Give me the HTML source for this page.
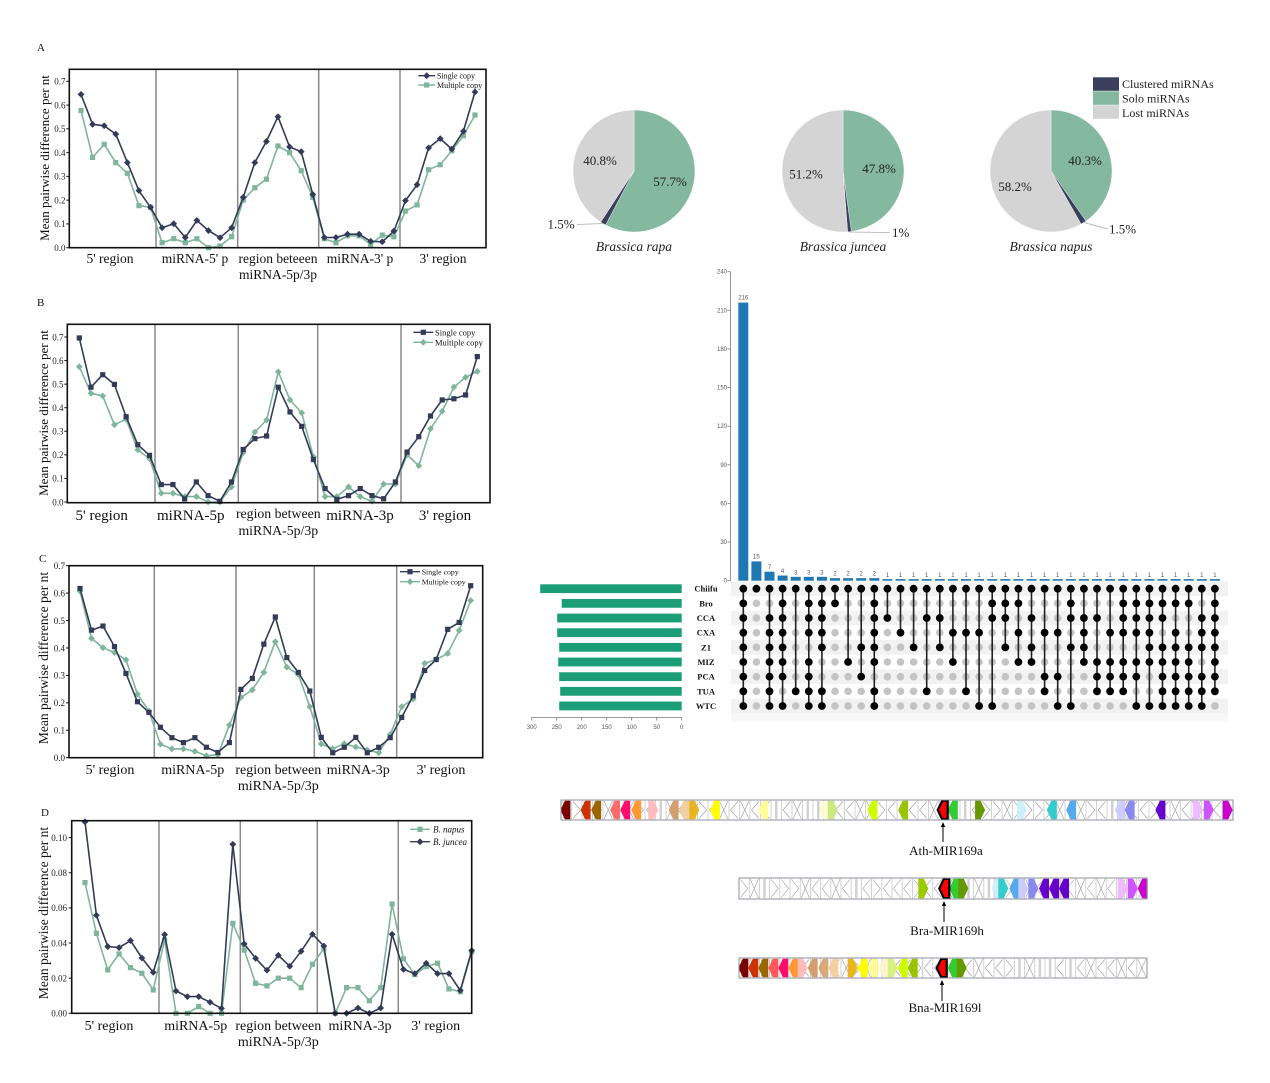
<!DOCTYPE html>
<html><head><meta charset="utf-8">
<style>
html,body{margin:0;padding:0;background:#fff;}
svg{display:block;font-family:"Liberation Serif",serif;}
.tk{font-size:9px;fill:#222;text-anchor:end;}
.xl{fill:#111;text-anchor:middle;}
.sm{font-family:"Liberation Sans",sans-serif;font-size:6px;fill:#555;}
.sl{font-size:8.5px;font-weight:bold;fill:#111;text-anchor:middle;}
</style></head><body>
<svg id="s" width="1270" height="1083" viewBox="0 0 1270 1083" xmlns="http://www.w3.org/2000/svg">
<rect x="0" y="0" width="1270" height="1083" fill="#fff"/>
<g id="shapes"></g>

<!-- Panel letters -->
<text x="37" y="51" font-size="11" fill="#111">A</text>
<text x="37" y="306" font-size="11" fill="#111">B</text>
<text x="39" y="562" font-size="11" fill="#111">C</text>
<text x="41" y="816" font-size="11" fill="#111">D</text>

<!-- Y labels -->
<text transform="translate(49,158) rotate(-90)" text-anchor="middle" font-size="13" fill="#111">Mean pairwise difference per nt</text>
<text transform="translate(48,413) rotate(-90)" text-anchor="middle" font-size="13" fill="#111">Mean pairwise difference per nt</text>
<text transform="translate(48,658) rotate(-90)" text-anchor="middle" font-size="13.5" fill="#111">Mean pairwise difference per nt</text>
<text transform="translate(48,913) rotate(-90)" text-anchor="middle" font-size="13.5" fill="#111">Mean pairwise difference per nt</text>

<!-- A ticks -->
<text class="tk" x="65.5" y="251">0.0</text>
<text class="tk" x="65.5" y="227.2">0.1</text>
<text class="tk" x="65.5" y="203.5">0.2</text>
<text class="tk" x="65.5" y="179.7">0.3</text>
<text class="tk" x="65.5" y="155.9">0.4</text>
<text class="tk" x="65.5" y="132.2">0.5</text>
<text class="tk" x="65.5" y="108.4">0.6</text>
<text class="tk" x="65.5" y="84.6">0.7</text>
<!-- B ticks -->
<text class="tk" x="63.5" y="505.3">0.0</text>
<text class="tk" x="63.5" y="481.7">0.1</text>
<text class="tk" x="63.5" y="458.2">0.2</text>
<text class="tk" x="63.5" y="434.6">0.3</text>
<text class="tk" x="63.5" y="411">0.4</text>
<text class="tk" x="63.5" y="387.5">0.5</text>
<text class="tk" x="63.5" y="363.9">0.6</text>
<text class="tk" x="63.5" y="340.3">0.7</text>
<!-- C ticks -->
<text class="tk" x="65" y="761">0.0</text>
<text class="tk" x="65" y="733.6">0.1</text>
<text class="tk" x="65" y="706.1">0.2</text>
<text class="tk" x="65" y="678.7">0.3</text>
<text class="tk" x="65" y="651.3">0.4</text>
<text class="tk" x="65" y="623.8">0.5</text>
<text class="tk" x="65" y="596.4">0.6</text>
<text class="tk" x="65" y="569">0.7</text>
<!-- D ticks -->
<text class="tk" x="67" y="1016.6">0.00</text>
<text class="tk" x="67" y="981.5">0.02</text>
<text class="tk" x="67" y="946.3">0.04</text>
<text class="tk" x="67" y="911.2">0.06</text>
<text class="tk" x="67" y="876.1">0.08</text>
<text class="tk" x="67" y="840.9">0.10</text>

<!-- A x labels -->
<g class="xl" font-size="13.5">
<text x="110" y="263">5' region</text>
<text x="195" y="263">miRNA-5' p</text>
<text x="278" y="263">region beteeen</text>
<text x="278" y="279">miRNA-5p/3p</text>
<text x="360" y="263">miRNA-3' p</text>
<text x="443" y="263">3' region</text>
</g>
<!-- B x labels -->
<g class="xl">
<text x="101.7" y="520" font-size="15">5' region</text>
<text x="190.7" y="520" font-size="15">miRNA-5p</text>
<text x="278.3" y="518" font-size="13.8">region between</text>
<text x="278.3" y="535" font-size="13.8">miRNA-5p/3p</text>
<text x="360" y="520" font-size="15">miRNA-3p</text>
<text x="445" y="520" font-size="15">3' region</text>
</g>
<!-- C x labels -->
<g class="xl" font-size="14">
<text x="110" y="774">5' region</text>
<text x="192.7" y="774">miRNA-5p</text>
<text x="278.3" y="774">region between</text>
<text x="278.3" y="790">miRNA-5p/3p</text>
<text x="358.3" y="774">miRNA-3p</text>
<text x="441" y="774">3' region</text>
</g>
<!-- D x labels -->
<g class="xl" font-size="14">
<text x="109" y="1030">5' region</text>
<text x="195.7" y="1030">miRNA-5p</text>
<text x="278.3" y="1030">region between</text>
<text x="278.3" y="1046">miRNA-5p/3p</text>
<text x="360" y="1030">miRNA-3p</text>
<text x="435.7" y="1030">3' region</text>
</g>

<!-- Legends line charts -->
<text x="437" y="78.5" font-size="8" fill="#111">Single copy</text>
<text x="437" y="88" font-size="8" fill="#111">Multiple copy</text>
<text x="435" y="335.3" font-size="8.5" fill="#111">Single copy</text>
<text x="435" y="345.3" font-size="8.5" fill="#111">Multiple copy</text>
<text x="421.7" y="574.5" font-size="7.8" fill="#111">Single copy</text>
<text x="421.7" y="584.5" font-size="7.8" fill="#111">Multiple copy</text>
<text x="433" y="832.5" font-size="9" font-style="italic" fill="#111">B. napus</text>
<text x="433" y="845" font-size="9" font-style="italic" fill="#111">B. juncea</text>

<!-- Pie labels -->
<g font-size="13" fill="#222">
<text x="600" y="165" text-anchor="middle">40.8%</text>
<text x="670" y="186" text-anchor="middle">57.7%</text>
<text x="561" y="228.5" text-anchor="middle">1.5%</text>
<text x="806" y="178.5" text-anchor="middle">51.2%</text>
<text x="879" y="173" text-anchor="middle">47.8%</text>
<text x="892" y="237">1%</text>
<text x="1015" y="191" text-anchor="middle">58.2%</text>
<text x="1085" y="165" text-anchor="middle">40.3%</text>
<text x="1109" y="233.5">1.5%</text>
</g>
<g font-size="13.5" font-style="italic" fill="#222" text-anchor="middle">
<text x="634" y="251">Brassica rapa</text>
<text x="843" y="251">Brassica juncea</text>
<text x="1051" y="251">Brassica napus</text>
</g>
<g font-size="12" fill="#222">
<text x="1122" y="88">Clustered miRNAs</text>
<text x="1122" y="102.5">Solo miRNAs</text>
<text x="1122" y="117">Lost miRNAs</text>
</g>

<!-- Upset y-axis labels -->
<g class="sm" text-anchor="end">
<text x="727" y="582.7">0</text>
<text x="727" y="544.1">30</text>
<text x="727" y="505.5">60</text>
<text x="727" y="466.8">90</text>
<text x="727" y="428.2">120</text>
<text x="727" y="389.6">150</text>
<text x="727" y="351">180</text>
<text x="727" y="312.3">210</text>
<text x="727" y="273.7">240</text>
</g>
<!-- bar count labels -->
<g class="sm" text-anchor="middle">
<text x="743.3" y="299.5">216</text>
<text x="756.4" y="558.5">15</text>
<text x="769.5" y="569">7</text>
<text x="782.6" y="573">4</text>
<text x="795.7" y="574.3">3</text>
<text x="808.8" y="574.3">3</text>
<text x="821.9" y="574.3">3</text>
<text x="835.0" y="575.6">2</text>
<text x="848.1" y="575.6">2</text>
<text x="861.2" y="575.6">2</text>
<text x="874.3" y="575.6">2</text>
<text x="887.4" y="577">1</text>
<text x="900.5" y="577">1</text>
<text x="913.6" y="577">1</text>
<text x="926.7" y="577">1</text>
<text x="939.8" y="577">1</text>
<text x="952.9" y="577">1</text>
<text x="966.0" y="577">1</text>
<text x="979.1" y="577">1</text>
<text x="992.2" y="577">1</text>
<text x="1005.3" y="577">1</text>
<text x="1018.4" y="577">1</text>
<text x="1031.5" y="577">1</text>
<text x="1044.6" y="577">1</text>
<text x="1057.7" y="577">1</text>
<text x="1070.8" y="577">1</text>
<text x="1083.9" y="577">1</text>
<text x="1097.0" y="577">1</text>
<text x="1110.1" y="577">1</text>
<text x="1123.2" y="577">1</text>
<text x="1136.3" y="577">1</text>
<text x="1149.4" y="577">1</text>
<text x="1162.5" y="577">1</text>
<text x="1175.6" y="577">1</text>
<text x="1188.7" y="577">1</text>
<text x="1201.8" y="577">1</text>
<text x="1214.9" y="577">1</text>
</g>
<!-- set labels -->
<text class="sl" x="706" y="591.7">Chiifu</text>
<text class="sl" x="706" y="606.3">Bro</text>
<text class="sl" x="706" y="621">CCA</text>
<text class="sl" x="706" y="635.6">CXA</text>
<text class="sl" x="706" y="650.3">Z1</text>
<text class="sl" x="706" y="665">MIZ</text>
<text class="sl" x="706" y="679.6">PCA</text>
<text class="sl" x="706" y="694.3">TUA</text>
<text class="sl" x="706" y="709">WTC</text>
<!-- set size axis labels -->
<g class="sm" text-anchor="middle">
<text x="531.7" y="729">300</text>
<text x="556.7" y="729">250</text>
<text x="581.7" y="729">200</text>
<text x="606.7" y="729">150</text>
<text x="631.7" y="729">100</text>
<text x="656.7" y="729">50</text>
<text x="681.7" y="729">0</text>
</g>

<!-- gene labels -->
<g font-size="13" fill="#111" text-anchor="middle">
<text x="946" y="855">Ath-MIR169a</text>
<text x="947" y="935">Bra-MIR169h</text>
<text x="945" y="1012">Bna-MIR169l</text>
</g>
</svg>
<script>
(function(){
const NS="http://www.w3.org/2000/svg";
const G=document.getElementById('shapes');
function el(t,a,p){const e=document.createElementNS(NS,t);for(const k in a)e.setAttribute(k,a[k]);(p||G).appendChild(e);return e;}
const DK="#343b58", GR="#7fb59b";
function marker(type,x,y,c){
  if(type==='d'){const s=3.4;el('polygon',{points:(x)+','+(y-s)+' '+(x+s)+','+y+' '+x+','+(y+s)+' '+(x-s)+','+y,fill:c});}
  else {const s=2.6;el('rect',{x:x-s,y:y-s,width:2*s,height:2*s,fill:c});}
}
function chart(c){
  c.div.forEach(d=>el('line',{x1:d,y1:c.T,x2:d,y2:c.B,stroke:'#8a8a8a','stroke-width':1.5}));
  c.ticks.forEach(v=>{const y=c.y0-v*c.k;el('line',{x1:c.L-3,y1:y,x2:c.L,y2:y,stroke:'#111','stroke-width':1});});
  c.series.forEach(s=>{
    const pts=s.v.map((v,i)=>[c.x0+i*c.dx,c.y0-v*c.k]);
    el('polyline',{points:pts.map(p=>p[0].toFixed(1)+','+p[1].toFixed(1)).join(' '),fill:'none',stroke:s.c,'stroke-width':1.6,'stroke-linejoin':'round'});
    pts.forEach(p=>marker(s.m,p[0],p[1],s.c));
  });
  el('rect',{x:c.L,y:c.T,width:c.R-c.L,height:c.B-c.T,fill:'none',stroke:'#111','stroke-width':1.6});
  c.leg.items.forEach((it,i)=>{const y=c.leg.ys[i];
    el('line',{x1:c.leg.x1,y1:y,x2:c.leg.x2,y2:y,stroke:it[0],'stroke-width':1.4});
    marker(it[1],(c.leg.x1+c.leg.x2)/2,y,it[0]);});
}
const As=[0.645,0.519,0.513,0.478,0.358,0.24,0.17,0.084,0.101,0.043,0.115,0.072,0.042,0.084,0.212,0.358,0.447,0.551,0.424,0.404,0.224,0.043,0.043,0.057,0.057,0.027,0.025,0.07,0.198,0.265,0.42,0.459,0.415,0.49,0.655];
const Am=[0.577,0.38,0.435,0.358,0.313,0.177,0.17,0.021,0.038,0.021,0.038,0.0,0.007,0.046,0.2,0.252,0.288,0.428,0.4,0.324,0.212,0.038,0.021,0.05,0.05,0.014,0.053,0.046,0.154,0.18,0.328,0.349,0.408,0.471,0.558];
const Bs=[0.696,0.487,0.54,0.499,0.362,0.243,0.198,0.074,0.074,0.013,0.085,0.027,0.003,0.085,0.223,0.269,0.28,0.487,0.382,0.321,0.18,0.057,0.011,0.027,0.057,0.027,0.014,0.085,0.212,0.277,0.365,0.433,0.438,0.454,0.617];
const Bm=[0.574,0.461,0.45,0.328,0.351,0.221,0.184,0.037,0.037,0.023,0.023,0.0,0.0,0.064,0.209,0.297,0.348,0.552,0.433,0.378,0.192,0.023,0.023,0.064,0.023,0.003,0.076,0.076,0.2,0.154,0.311,0.385,0.488,0.529,0.554];
const Cs=[0.617,0.465,0.48,0.405,0.307,0.204,0.165,0.111,0.073,0.055,0.073,0.038,0.019,0.055,0.249,0.289,0.414,0.513,0.365,0.311,0.243,0.074,0.018,0.038,0.074,0.018,0.038,0.073,0.147,0.226,0.318,0.358,0.468,0.493,0.627];
const Cm=[0.607,0.435,0.401,0.383,0.357,0.232,0.17,0.049,0.032,0.032,0.023,0.007,0.011,0.119,0.22,0.247,0.311,0.423,0.33,0.304,0.186,0.05,0.033,0.051,0.039,0.028,0.018,0.085,0.186,0.214,0.344,0.358,0.38,0.464,0.573];
const Dn=[0.0744,0.0455,0.0247,0.0338,0.026,0.0228,0.0133,0.0417,0,0,0.0038,0,0,0.0512,0.036,0.0171,0.0156,0.02,0.02,0.0146,0.0279,0.0368,0,0.0146,0.0146,0.0072,0.0146,0.0622,0.031,0.022,0.0266,0.0285,0.0139,0.0123,0.035];
const Dj=[0.109,0.0558,0.038,0.0374,0.0414,0.0315,0.0233,0.0448,0.0127,0.0095,0.0095,0.0063,0.0028,0.0962,0.0395,0.0313,0.0245,0.033,0.0268,0.0353,0.045,0.0383,0,0,0.003,0,0.003,0.045,0.025,0.0226,0.0285,0.0226,0.0226,0.013,0.0357];
const t7=[0,.1,.2,.3,.4,.5,.6,.7];
chart({L:69.3,T:69.3,R:486,B:247.7,y0:247.7,k:237.7,x0:81,dx:11.588,div:[156,237.7,318.7,400],ticks:t7,
  series:[{v:Am,c:GR,m:'s'},{v:As,c:DK,m:'d'}],leg:{x1:418.3,x2:435,ys:[75.7,85],items:[[DK,'d'],[GR,'s']]}});
chart({L:67.3,T:324.3,R:490,B:502.7,y0:502,k:235.7,x0:79.3,dx:11.706,div:[155,238.3,317.7,401],ticks:t7,
  series:[{v:Bm,c:GR,m:'d'},{v:Bs,c:DK,m:'s'}],leg:{x1:413.3,x2:433.3,ys:[332.3,342.3],items:[[DK,'s'],[GR,'d']]}});
chart({L:69,T:565.7,R:482.7,B:757.7,y0:757.7,k:274.3,x0:80,dx:11.49,div:[154.3,236,314.3,396.7],ticks:t7,
  series:[{v:Cm,c:GR,m:'d'},{v:Cs,c:DK,m:'s'}],leg:{x1:400,x2:420,ys:[571.7,581.7],items:[[DK,'s'],[GR,'d']]}});
chart({L:71.7,T:820.7,R:471.7,B:1013.3,y0:1013.3,k:1756.7,x0:85,dx:11.373,div:[159,240.3,317.3,398.3],ticks:[0,.02,.04,.06,.08,.10],
  series:[{v:Dn,c:GR,m:'s'},{v:Dj,c:DK,m:'d'}],leg:{x1:410,x2:430,ys:[829.3,841.7],items:[[GR,'s'],[DK,'d']]}});

// Pies
const PG="#84b99f",PD="#3a3f5c",PL="#d4d4d4";
function pie(cx,cy,r,parts){let a=0;parts.forEach(p=>{const a1=a+p[0]*2*Math.PI;
  const x0=cx+r*Math.sin(a),y0=cy-r*Math.cos(a),x1=cx+r*Math.sin(a1),y1=cy-r*Math.cos(a1);
  el('path',{d:'M'+cx+','+cy+'L'+x0+','+y0+'A'+r+','+r+' 0 '+(p[0]>0.5?1:0)+' 1 '+x1+','+y1+'Z',fill:p[1],stroke:'#fff','stroke-width':0.4});a=a1;});}
pie(634,171,61,[[0.577,PG],[0.015,PD],[0.408,PL]]);
pie(843,171,61,[[0.478,PG],[0.010,PD],[0.512,PL]]);
pie(1051,171,61,[[0.403,PG],[0.015,PD],[0.582,PL]]);
el('line',{x1:577,y1:224.5,x2:604,y2:223.5,stroke:'#aaa','stroke-width':0.8});
el('line',{x1:849,y1:232,x2:890,y2:232.5,stroke:'#aaa','stroke-width':0.8});
el('line',{x1:1084,y1:222.5,x2:1108,y2:229,stroke:'#aaa','stroke-width':0.8});
[[PD,77.3],[PG,91.3],[PL,105.3]].forEach(b=>el('rect',{x:1093,y:b[1],width:26,height:13.5,fill:b[0]}));

// Upset bars
const vals=[216,15,7,4,3,3,3,2,2,2,2];while(vals.length<37)vals.push(1);
const BL="#1f77b4",cx=i=>743.3+i*13.1;
el('line',{x1:730.5,y1:271.7,x2:730.5,y2:580.7,stroke:'#777','stroke-width':0.8});
for(let t=0;t<=240;t+=30){const y=580.7-t*1.2875;el('line',{x1:727.5,y1:y,x2:730.5,y2:y,stroke:'#777','stroke-width':0.8});}
vals.forEach((v,i)=>{const h=Math.max(v*1.2875,1.6);el('rect',{x:cx(i)-5,y:580.7-h,width:10,height:h,fill:BL});});
// Matrix
const ry=i=>588.7+i*14.66;
for(let r=0;r<9;r++){ if(r%2===0) el('rect',{x:731,y:ry(r)-7.33,width:497,height:14.66,fill:'#f2f2f2'});}
el('rect',{x:731,y:ry(8)+7.33,width:497,height:8,fill:'#f7f7f7'});
const cols=["111111111","100000000","101111111","111111101","100000010","111101111","111110011","110000000","100001000","100010100","111111011","101000000","100100000","100010000","101000010","101010000","100101000","100100010","100100001","111000001","111010000","110101000","101011000","100100110","100100101","111010001","101111000","101001110","100101110","111101110","111101101","111111001","111011111","110111111","110011111","101110111","111111110"];
cols.forEach((s,i)=>{const x=cx(i);let mn=9,mx=-1;
  for(let r=0;r<9;r++){ if(s[r]==='1'){mn=Math.min(mn,r);mx=Math.max(mx,r);} }
  for(let r=0;r<9;r++){ if(s[r]!=='1') el('circle',{cx:x,cy:ry(r),r:3.8,fill:'#c4c4c4'}); }
  if(mx>mn) el('line',{x1:x,y1:ry(mn),x2:x,y2:ry(mx),stroke:'#222','stroke-width':1.6});
  for(let r=0;r<9;r++){ if(s[r]==='1') el('circle',{cx:x,cy:ry(r),r:3.9,fill:'#000'}); }
});
// Set size bars
const SG="#1b9e77",sv=[283,240,249,249,245,247,245,243,245];
sv.forEach((v,r)=>el('rect',{x:681.7-v*0.5,y:ry(r)-4.4,width:v*0.5,height:8.8,fill:SG}));
el('line',{x1:531.7,y1:717.5,x2:681.7,y2:717.5,stroke:'#777','stroke-width':0.8});
for(let t=0;t<=300;t+=50){const x=681.7-t*0.5;el('line',{x1:x,y1:717.5,x2:x,y2:720.5,stroke:'#777','stroke-width':0.8});}

// Gene tracks
function track(x0,x1,top,bot,n,seed,items){
  const w=(x1-x0)/n,mid=(top+bot)/2;
  const pat="LLXRL|XLRLX|LRXLL|RXL|LXRRLX|LLR|XLXR|RLLX|";
  for(let i=0;i<n;i++){const x=x0+i*w,c=pat[(i*seed+3)%pat.length];
    if(i>0) el('line',{x1:x,y1:top,x2:x,y2:bot,stroke:'#c8c8c8','stroke-width':0.8});
    if(c==='L') el('polyline',{points:(x+w-1.5)+','+(top+1.5)+' '+(x+1.5)+','+mid+' '+(x+w-1.5)+','+(bot-1.5),fill:'none',stroke:'#999','stroke-width':0.6});
    else if(c==='R') el('polyline',{points:(x+1.5)+','+(top+1.5)+' '+(x+w-1.5)+','+mid+' '+(x+1.5)+','+(bot-1.5),fill:'none',stroke:'#999','stroke-width':0.6});
    else if(c==='X'){el('line',{x1:x+1,y1:top+1,x2:x+w-1,y2:bot-1,stroke:'#999','stroke-width':0.6});el('line',{x1:x+1,y1:bot-1,x2:x+w-1,y2:top+1,stroke:'#999','stroke-width':0.6});}
    else el('rect',{x:x+w/2-1.2,y:top+1,width:2.4,height:bot-top-2,fill:'#d0d0d0'});
  }
  items.forEach(it=>{const c=it[0],hw=5,x=c-hw,xe=c+hw,t=top+0.8,b=bot-0.8;let pts;
    if(it[2]==='L') pts=[[x,mid],[x+4.5,t],[xe,t],[xe,b],[x+4.5,b]];
    else pts=[[xe,mid],[xe-4.5,t],[x,t],[x,b],[xe-4.5,b]];
    const a={points:pts.map(p=>p[0].toFixed(1)+','+p[1].toFixed(1)).join(' '),fill:it[1]};
    if(it[3]){a.stroke='#000';a['stroke-width']=2.2;a['stroke-linejoin']='miter';}
    el('polygon',a);});
  el('rect',{x:x0,y:top,width:x1-x0,height:bot-top,fill:'none',stroke:'#8f8fa0','stroke-width':1});
}
function arrow(x,y1,y2){el('line',{x1:x,y1:y2,x2:x,y2:y1+3,stroke:'#000','stroke-width':1});
  el('polygon',{points:x+','+y1+' '+(x-2.2)+','+(y1+5)+' '+(x+2.2)+','+(y1+5),fill:'#000'});}
track(561,1233,800,820,64,5,[
[565.4,'#7a0000','L'],[585.6,'#cc3300','L'],[596.2,'#996600','L'],[615.1,'#ff6b6b','L'],[625.2,'#ff0d6e','L'],[636.2,'#ff9933','L'],
[653.3,'#ffbcbc','R'],[673.6,'#d2a070','L'],[684.1,'#f0d0a0','L'],[694.2,'#e8b420','R'],[714.9,'#ffff00','L'],[763.3,'#ffff99','L'],
[824,'#fffad0','L'],[832.8,'#cce880','R'],[872.3,'#ccff00','L'],[903.1,'#99c400','L'],[952.8,'#33cc33','L'],[980.1,'#669900','R'],
[1021.9,'#cdeefa','R'],[1051.8,'#33cccc','L'],[1071.1,'#55aaee','L'],[1119.9,'#ccccff','L'],[1129.6,'#8888ee','L'],[1160.4,'#6600cc','L'],
[1197.8,'#eebbff','R'],[1208.8,'#cc55ff','R'],[1227.7,'#cc00cc','R'],[942.7,'#ff0000','L',1]]);
arrow(943,822,842);
track(739,1147,878,899,40,7,[
[923.3,'#99cc00','R'],[954.3,'#33cc33','L'],[963.3,'#669900','R'],[996.7,'#cdeefa','L'],[1003.3,'#33cccc','R'],[1014.3,'#55aaee','L'],
[1023.3,'#ccccff','R'],[1033.3,'#8888ee','R'],[1044,'#6600cc','L'],[1054,'#6600cc','L'],[1064,'#6600cc','L'],[1122.7,'#eebbff','R'],
[1132.7,'#cc55ff','R'],[1142.7,'#cc00cc','L'],[944.3,'#ff0000','L',1]]);
arrow(944,901,922);
track(739,1147,958,978,40,11,[
[743.3,'#7a0000','L'],[753.3,'#cc3300','L'],[763.3,'#996600','L'],[773.3,'#ff5a5a','L'],[783.3,'#ff0d6e','L'],[793.3,'#ff9933','L'],
[802.7,'#ffbcbc','R'],[812.7,'#d2a070','L'],[823.3,'#d8a878','L'],[833.3,'#f0d0a0','L'],[852.7,'#e8b420','R'],[862.7,'#ffff00','L'],
[872.7,'#ffff99','L'],[883.3,'#fff5d0','L'],[892.7,'#d8f080','R'],[902.7,'#ccff00','L'],[912.7,'#99c400','L'],[952.7,'#33cc33','L'],
[961.7,'#669900','R'],[941.7,'#ff0000','L',1]]);
arrow(942,980,1001);
})();
</script>
</body></html>
